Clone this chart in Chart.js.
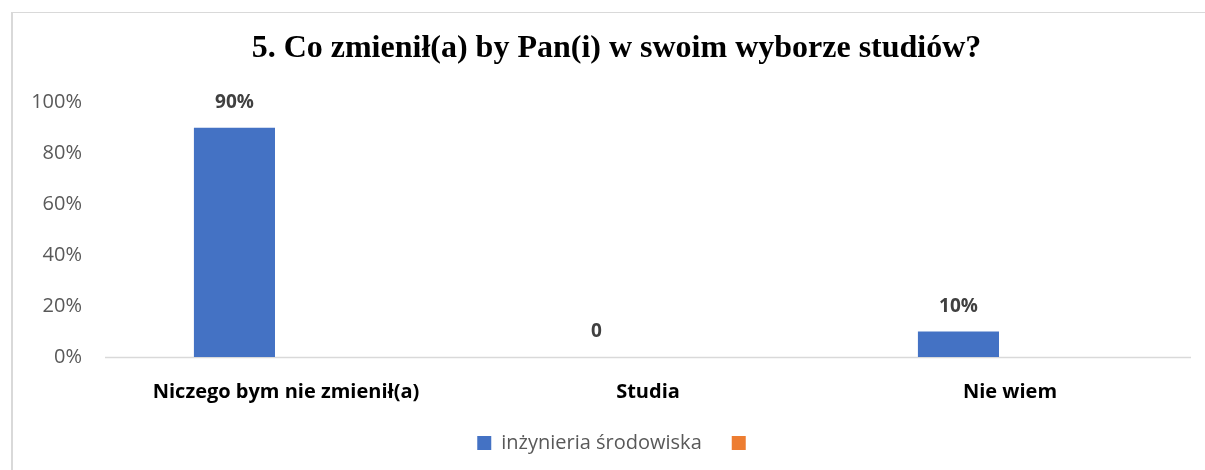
<!DOCTYPE html>
<html>
<head>
<meta charset="utf-8">
<script src="https://cdn.jsdelivr.net/npm/chart.js@4/dist/chart.umd.min.js"></script>
<style>
  html, body { margin: 0; padding: 0; background: #fff; }
  #frame { position: absolute; left: 11px; top: 12px; width: 1200px; height: 470px;
           border-top: 1px solid #d9d9d9; border-left: 2px solid #d9d9d9; }
  #wrap { position: absolute; left: 0; top: 0; width: 1205px; height: 470px; }
</style>
</head>
<body>
<div id="frame"></div>
<div id="wrap"><canvas id="chart" width="1205" height="470"></canvas></div>
<script>
// chart data
const categories = ['Niczego bym nie zmienił(a)', 'Studia', 'Nie wiem'];
const seriesA = [90, 0, 10];   // inżynieria środowiska
const seriesB = [null, null, null];
const yTicks = [0, 20, 40, 60, 80, 100];

// value labels above the blue bars
const valueLabels = {
    id: 'valueLabels',
    afterDatasetsDraw(chart) {
        const ctx = chart.ctx;
        const meta = chart.getDatasetMeta(0);
        ctx.save();
        ctx.font = 'bold 19px "Open Sans"';
        ctx.fillStyle = '#404040';
        ctx.textAlign = 'center';
        ctx.textBaseline = 'middle';
        meta.data.forEach(function (bar, i) {
            const v = seriesA[i];
            ctx.fillText(v === 0 ? '0' : v + '%', bar.x, bar.y - 25);
        });
        ctx.restore();
    }
};

// axis line, a bit shifted like in the original
const baseLine = {
    id: 'baseLine',
    beforeDatasetsDraw(chart) {
        const a = chart.chartArea;
        const ctx = chart.ctx;
        ctx.save();
        ctx.strokeStyle = '#d9d9d9';
        ctx.lineWidth = 1.5;
        ctx.beginPath();
        ctx.moveTo(a.left + 11, a.bottom + 0.5);
        ctx.lineTo(a.right + 11, a.bottom + 0.5);
        ctx.stroke();
        ctx.restore();
    }
};

const ctx = document.getElementById('chart').getContext('2d');
new Chart(ctx, {
    type: 'bar',
    data: {
        labels: categories,
        datasets: [{
            label: 'inżynieria środowiska',
            data: seriesA,
            backgroundColor: '#4472C4',
            categoryPercentage: 0.448,
            barPercentage: 1
        }, {
            label: '',
            data: seriesB,
            backgroundColor: '#ED7D31',
            categoryPercentage: 0.448,
            barPercentage: 1
        }]
    },
    plugins: [valueLabels, baseLine],
    options: {
        responsive: false,
        animation: false,
        layout: { padding: { left: 28, right: 0, top: 18, bottom: 7 } },
        plugins: {
            title: {
                display: true,
                text: '5. Co zmienił(a) by Pan(i) w swoim wyborze studiów?',
                color: '#000',
                font: { family: '"Liberation Serif"', size: 32, weight: 'bold' },
                padding: { top: 12, bottom: 34 }
            },
            legend: {
                position: 'bottom',
                labels: {
                    boxWidth: 14,
                    boxHeight: 14,
                    color: '#595959',
                    font: { family: '"Open Sans"', size: 20 },
                    padding: 30
                }
            },
            tooltip: { enabled: false }
        },
        scales: {
            x: {
                grid: { display: false },
                border: { display: false },
                ticks: {
                    color: '#000',
                    font: { family: '"Open Sans"', size: 20, weight: 'bold' },
                    padding: 15,
                    labelOffset: 11,
                    maxRotation: 0
                },
                afterFit(scale) { scale.height = 46; }
            },
            y: {
                min: 0,
                max: 100,
                grid: { display: false },
                border: { display: false },
                afterBuildTicks(scale) { scale.ticks = yTicks.map(v => ({ value: v })); },
                ticks: {
                    color: '#595959',
                    font: { family: '"Open Sans"', size: 20 },
                    padding: 4,
                    callback: v => v + '%'
                },
                afterFit(scale) { scale.width = 66; }
            },
            y2: {
                position: 'right',
                display: true,
                grid: { display: false },
                border: { display: false },
                ticks: { display: false },
                afterFit(scale) { scale.width = 25; }
            }
        }
    }
});
</script>
</body>
</html>
